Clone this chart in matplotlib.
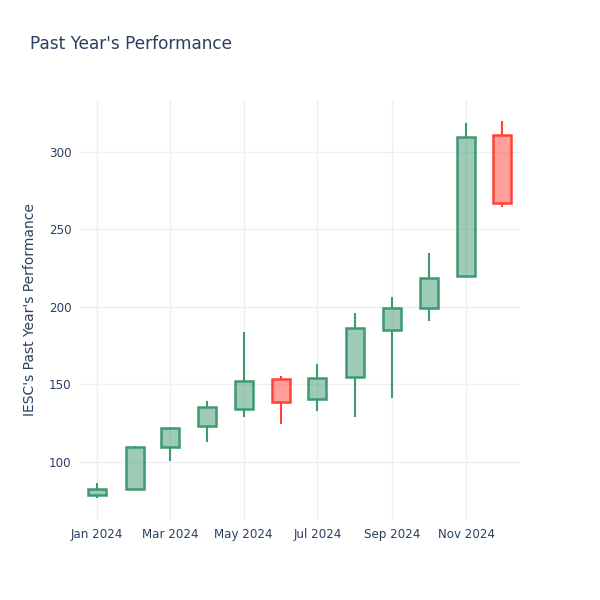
import matplotlib
matplotlib.use("Agg")
import matplotlib.pyplot as plt
import matplotlib.dates as mdates
import numpy as np
import datetime as dt

months = ["2024-01-01", "2024-02-01", "2024-03-01", "2024-04-01", "2024-05-01", "2024-06-01",
          "2024-07-01", "2024-08-01", "2024-09-01", "2024-10-01", "2024-11-01", "2024-12-01"]
open_ = [78.4, 82.2, 109.2, 123.1, 133.9, 153.5, 140.2, 154.6, 184.8, 199.2, 219.7, 311.2]
close = [82.0, 109.6, 121.4, 135.0, 152.2, 138.7, 153.8, 186.5, 199.4, 218.4, 309.9, 267.0]
high = [86.3, 110.0, 122.5, 139.1, 183.9, 155.0, 163.0, 195.8, 206.5, 234.5, 318.9, 320.0]
low = [76.2, 82.0, 100.3, 112.4, 128.5, 124.2, 132.6, 128.9, 140.8, 191.0, 219.5, 264.3]
yticks = [100, 150, 200, 250, 300]
xtick_dates = ["2024-01-01", "2024-03-01", "2024-05-01", "2024-07-01", "2024-09-01", "2024-11-01"]

title = "Past Year's Performance"
ylabel = "IESC's Past Year's Performance"

INC = "#3D9970"
DEC = "#FF4136"
TXT = "#2a3f5f"
GRID = "#EBF0F8"

plt.rcParams['font.family'] = ['DejaVu Sans']

fig = plt.figure(figsize=(6, 6), dpi=100)
ax = fig.add_axes([80/600, 80/600, 440/600, 420/600])

x = mdates.date2num([dt.datetime.fromisoformat(d) for d in months])
o = np.array(open_); c = np.array(close); h = np.array(high); l = np.array(low)
width = 15.0

for xi, oi, ci, hi, li in zip(x, o, c, h, l):
    col = INC if ci >= oi else DEC
    top = max(oi, ci); bot = min(oi, ci)
    ax.plot([xi, xi], [top, hi], color=col, lw=1.5, solid_capstyle='butt', zorder=2)
    ax.plot([xi, xi], [li, bot], color=col, lw=1.5, solid_capstyle='butt', zorder=2)
    ax.bar(xi, top - bot, bottom=bot, width=width, color=col, alpha=0.5, zorder=3, linewidth=0)
    ax.bar(xi, top - bot, bottom=bot, width=width, fill=False, edgecolor=col, linewidth=1.8, zorder=4)

x0 = mdates.date2num(dt.datetime(2024, 1, 1))
ax.set_xlim(x0 - 14.3, x0 + 349.6)
ax.set_ylim(62.2, 333.6)

ax.set_xticks(mdates.date2num([dt.datetime.fromisoformat(d) for d in xtick_dates]))
ax.xaxis.set_major_formatter(mdates.DateFormatter("%b %Y"))
ax.set_yticks(yticks)
ax.tick_params(axis='both', length=0, labelsize=8.6, colors=TXT, pad=6)
ax.grid(True, color=GRID, lw=1)
ax.set_axisbelow(True)
for s in ax.spines.values():
    s.set_visible(False)

ax.set_ylabel(ylabel, fontsize=10, color=TXT, labelpad=9)
fig.text(30/600, 1 - 44/600, title, fontsize=12.2, color=TXT, va='center', ha='left')

fig.savefig("out.png", dpi=100, facecolor='white')
